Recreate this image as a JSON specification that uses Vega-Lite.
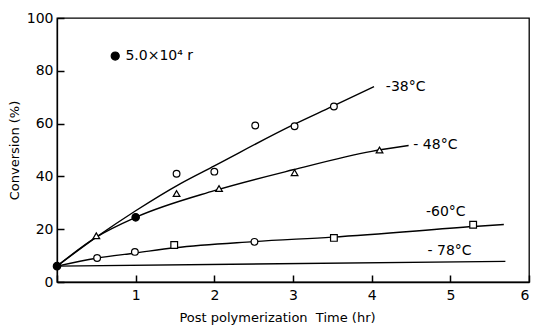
{
  "$schema": "https://vega.github.io/schema/vega-lite/v6.json",
  "autosize": {"type": "none"},
  "width": 472,
  "height": 264,
  "padding": {"left": 57, "top": 18, "right": 4, "bottom": 49},
  "background": "white",
  "config": {
    "font": "DejaVu Sans",
    "view": {"stroke": "black", "strokeWidth": 1.3},
    "axis": {"domainColor": "black", "tickColor": "black", "labelColor": "black", "titleColor": "black", "grid": false, "ticks": true, "labelFont": "DejaVu Sans", "titleFont": "DejaVu Sans", "labelFontSize": 14, "titleFontSize": 13, "titleFontWeight": "normal", "domainWidth": 1.3, "tickWidth": 1.5}
  },
  "datasets": {
    "curves": [
      {"series": "-38", "t": 0, "c": 6}, {"series": "-38", "t": 0.5, "c": 17}, {"series": "-38", "t": 1, "c": 27}, {"series": "-38", "t": 1.57, "c": 37.3}, {"series": "-38", "t": 2, "c": 44}, {"series": "-38", "t": 3, "c": 59.5}, {"series": "-38", "t": 3.5, "c": 66.5}, {"series": "-38", "t": 4.03, "c": 74},
      {"series": "-48", "t": 0, "c": 6}, {"series": "-48", "t": 0.5, "c": 17}, {"series": "-48", "t": 1, "c": 24.5}, {"series": "-48", "t": 2, "c": 34.6}, {"series": "-48", "t": 3, "c": 42.5}, {"series": "-48", "t": 4, "c": 49.5}, {"series": "-48", "t": 4.47, "c": 51.7},
      {"series": "-60", "t": 0, "c": 6}, {"series": "-60", "t": 0.5, "c": 9}, {"series": "-60", "t": 1, "c": 11}, {"series": "-60", "t": 1.5, "c": 13}, {"series": "-60", "t": 2.5, "c": 15.3}, {"series": "-60", "t": 3.5, "c": 17}, {"series": "-60", "t": 5.3, "c": 21}, {"series": "-60", "t": 5.68, "c": 21.8},
      {"series": "-78", "t": 0, "c": 6}, {"series": "-78", "t": 5.7, "c": 7.8}
    ],
    "points": [
      {"shape": "circle", "kind": "open", "t": 1.52, "c": 41}, {"shape": "circle", "kind": "open", "t": 2.0, "c": 41.8}, {"shape": "circle", "kind": "open", "t": 2.52, "c": 59.3}, {"shape": "circle", "kind": "open", "t": 3.02, "c": 59}, {"shape": "circle", "kind": "open", "t": 3.52, "c": 66.5},
      {"shape": "triangle-up", "kind": "open", "t": 0.5, "c": 17.5}, {"shape": "triangle-up", "kind": "open", "t": 1.52, "c": 33.5}, {"shape": "triangle-up", "kind": "open", "t": 2.06, "c": 35.4}, {"shape": "triangle-up", "kind": "open", "t": 3.02, "c": 41.4}, {"shape": "triangle-up", "kind": "open", "t": 4.1, "c": 50},
      {"shape": "circle", "kind": "open", "t": 0.51, "c": 9.1}, {"shape": "circle", "kind": "open", "t": 0.99, "c": 11.4}, {"shape": "square", "kind": "open", "t": 1.49, "c": 14}, {"shape": "circle", "kind": "open", "t": 2.51, "c": 15.2}, {"shape": "square", "kind": "open", "t": 3.52, "c": 16.7}, {"shape": "square", "kind": "open", "t": 5.29, "c": 21.7},
      {"shape": "circle", "kind": "filled", "t": 0, "c": 6}, {"shape": "circle", "kind": "filled", "t": 1, "c": 24.5}, {"shape": "circle", "kind": "big", "t": 0.74, "c": 85.6}
    ],
    "labels": [
      {"text": "-38°C", "t": 4.18, "c": 74},
      {"text": "- 48°C", "t": 4.53, "c": 52},
      {"text": "-60°C", "t": 4.69, "c": 26.6},
      {"text": "- 78°C", "t": 4.71, "c": 11.8},
      {"text": "5.0×10⁴ r", "t": 0.87, "c": 85.6}
    ]
  },
  "layer": [
    {
      "data": {"name": "curves"},
      "mark": {"type": "line", "interpolate": "monotone", "color": "black", "strokeWidth": 1.4},
      "encoding": {
        "x": {"field": "t", "type": "quantitative", "scale": {"domain": [0, 6], "nice": false},
          "axis": {"title": "Post polymerization\u00a0\u00a0Time (hr)", "values": [0, 1, 2, 3, 4, 5, 6], "format": "d", "labelExpr": "datum.value == 0 ? '' : datum.label", "tickSize": -7, "labelPadding": 13, "titlePadding": 9, "titleX": 220}},
        "y": {"field": "c", "type": "quantitative", "scale": {"domain": [0, 100], "nice": false},
          "axis": {"title": "Conversion (%)", "values": [0, 20, 40, 60, 80, 100], "tickSize": -7, "labelPadding": 11, "titlePadding": 5}},
        "detail": {"field": "series"}
      }
    },
    {
      "data": {"name": "points"},
      "mark": {"type": "point", "strokeWidth": 1.2, "opacity": 1},
      "encoding": {
        "x": {"field": "t", "type": "quantitative"},
        "y": {"field": "c", "type": "quantitative"},
        "shape": {"field": "shape", "type": "nominal", "scale": {"domain": ["circle", "triangle-up", "square"], "range": ["circle", "triangle-up", "square"]}, "legend": null},
        "fill": {"field": "kind", "type": "nominal", "scale": {"domain": ["open", "filled", "big"], "range": ["white", "black", "black"]}, "legend": null},
        "size": {"field": "kind", "type": "nominal", "scale": {"domain": ["open", "filled", "big"], "range": [45, 65, 110]}, "legend": null},
        "stroke": {"value": "black"}
      }
    },
    {
      "data": {"name": "labels"},
      "mark": {"type": "text", "align": "left", "baseline": "middle", "fontSize": 14, "color": "black"},
      "encoding": {
        "x": {"field": "t", "type": "quantitative"},
        "y": {"field": "c", "type": "quantitative"},
        "text": {"field": "text"}
      }
    }
  ]
}
